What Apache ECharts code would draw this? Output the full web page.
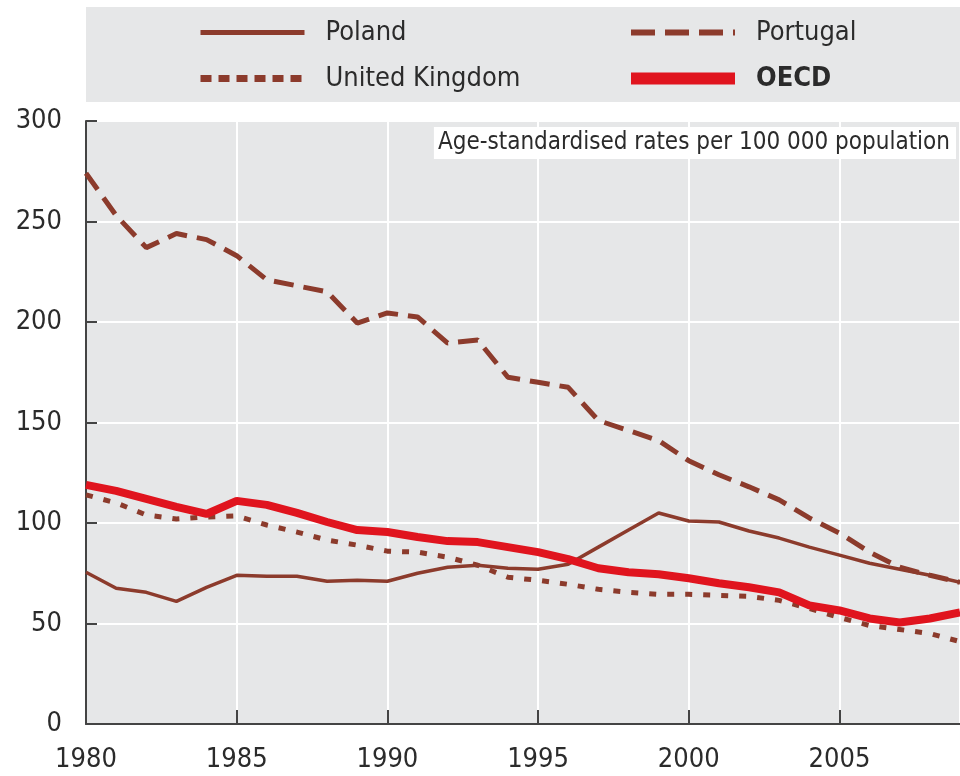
<!DOCTYPE html>
<html>
<head>
<meta charset="utf-8">
<script src="https://cdn.jsdelivr.net/npm/echarts@6/dist/echarts.min.js"></script>
<style>
  html, body { margin: 0; padding: 0; background: #fff; }
  #chart { width: 960px; height: 776px; }
</style>
</head>
<body>
<div id="chart"></div>
<script>
const years = [1980, 1981, 1982, 1983, 1984, 1985, 1986, 1987, 1988, 1989,
  1990, 1991, 1992, 1993, 1994, 1995, 1996, 1997, 1998, 1999,
  2000, 2001, 2002, 2003, 2004, 2005, 2006, 2007, 2008, 2009]

const poland = [75.5, 67.5, 65.5, 61, 68, 74, 73.5, 73.5, 71, 71.5,
  71, 75, 78, 79, 77.5, 77, 79.5, 88, 96.5, 105,
  101, 100.5, 96, 92.5, 88, 84, 80, 77, 74, 70.5]
const portugal = [274, 253, 237, 244, 241, 233, 221, 218, 215, 199.5,
  204.5, 202.5, 189.5, 191, 172.5, 170, 167.5, 151, 146, 141,
  131, 124, 118, 111.5, 102.5, 95, 85.5, 78, 74, 70.5]
const unitedKingdom = [114, 110, 104, 102, 103, 103.5, 99, 95.5, 91.5, 89,
  86, 85.5, 83, 79, 73, 71.5, 69.5, 67, 65.5, 64.5,
  64.5, 64, 63.5, 61.5, 57.5, 53, 49, 47, 45, 41]
const oecd = [119, 116, 112, 108, 104.5, 111, 109, 105, 100.5, 96.5,
  95.5, 93, 91, 90.5, 88, 85.5, 82, 77.5, 75.5, 74.5,
  72.5, 70, 68, 65.5, 59, 56.5, 52.5, 50.5, 52.5, 55.5]

const note = 'Age-standardised rates per 100 000 population'

const brown = '#8c3b2c'
const red = '#e0141e'
const font = "'DejaVu Sans Condensed', 'Liberation Sans', sans-serif"

const pairs = (vals) => years.map((y, i) => [y, vals[i]])

const chart = echarts.init(document.getElementById('chart'), null, { renderer: 'canvas' })

const legendText = { fontFamily: font, fontSize: 27, color: '#2b2b2b', padding: [0, 0, 0, 16] }

const option = {
  animation: false,
  backgroundColor: '#fff',
  // 图例背景
  graphic: [
    {
      type: 'rect',
      left: 86,
      top: 7,
      shape: { width: 874, height: 95 },
      style: { fill: '#e6e7e8' },
      z: -1
    }
  ],
  title: {
    text: note,
    right: 4,
    top: 127,
    padding: [4, 6, 4, 4],
    backgroundColor: '#fff',
    textStyle: { fontFamily: font, fontSize: 24, fontWeight: 'normal', color: '#2b2b2b' }
  },
  legend: [
    {
      left: 192,
      top: 14,
      orient: 'vertical',
      itemWidth: 104,
      itemHeight: 14,
      itemGap: 19,
      itemStyle: { opacity: 0 },
      textStyle: legendText,
      data: [
        { name: 'Poland', lineStyle: { width: 5 } },
        { name: 'United Kingdom', lineStyle: { width: 7, type: [11, 7] } }
      ]
    },
    {
      left: 620,
      top: 14,
      orient: 'vertical',
      itemWidth: 104,
      itemHeight: 14,
      itemGap: 19,
      itemStyle: { opacity: 0 },
      textStyle: legendText,
      data: [
        { name: 'Portugal', lineStyle: { width: 6, type: [24, 10] } },
        { name: 'OECD', lineStyle: { width: 12 }, textStyle: { fontWeight: 'bold' } }
      ]
    }
  ],
  grid: {
    left: 86,
    right: 0,
    top: 121,
    bottom: 52,
    show: true,
    backgroundColor: '#e6e7e8',
    borderWidth: 0
  },
  xAxis: {
    type: 'value',
    min: 1980,
    max: 2009,
    interval: 5,
    axisLine: { lineStyle: { color: '#444', width: 2 } },
    axisTick: { inside: true, length: 14, lineStyle: { color: '#444', width: 2 } },
    axisLabel: {
      margin: 22,
      fontFamily: font,
      fontSize: 27,
      color: '#2b2b2b',
      showMaxLabel: false,
      formatter: (v) => String(v)
    },
    splitLine: { show: true, lineStyle: { color: '#fff', width: 2 } }
  },
  yAxis: {
    type: 'value',
    min: 0,
    max: 300,
    interval: 50,
    axisLine: { show: true, lineStyle: { color: '#444', width: 2 } },
    axisTick: { show: true, inside: true, length: 11, lineStyle: { color: '#444', width: 2 } },
    axisLabel: { margin: 24, fontFamily: font, fontSize: 27, color: '#2b2b2b' },
    splitLine: { show: true, lineStyle: { color: '#fff', width: 2 } }
  },
  series: [
    {
      name: 'Poland',
      type: 'line',
      data: pairs(poland),
      symbol: 'none',
      color: brown,
      lineStyle: { width: 3.5, color: brown }
    },
    {
      name: 'Portugal',
      type: 'line',
      data: pairs(portugal),
      symbol: 'none',
      color: brown,
      lineStyle: { width: 5, color: brown, type: [20, 10] }
    },
    {
      name: 'United Kingdom',
      type: 'line',
      data: pairs(unitedKingdom),
      symbol: 'none',
      color: brown,
      lineStyle: { width: 5, color: brown, type: [7, 11] }
    },
    {
      name: 'OECD',
      type: 'line',
      data: pairs(oecd),
      symbol: 'none',
      color: red,
      lineStyle: { width: 8, color: red }
    }
  ]
}

chart.setOption(option)
</script>
</body>
</html>
